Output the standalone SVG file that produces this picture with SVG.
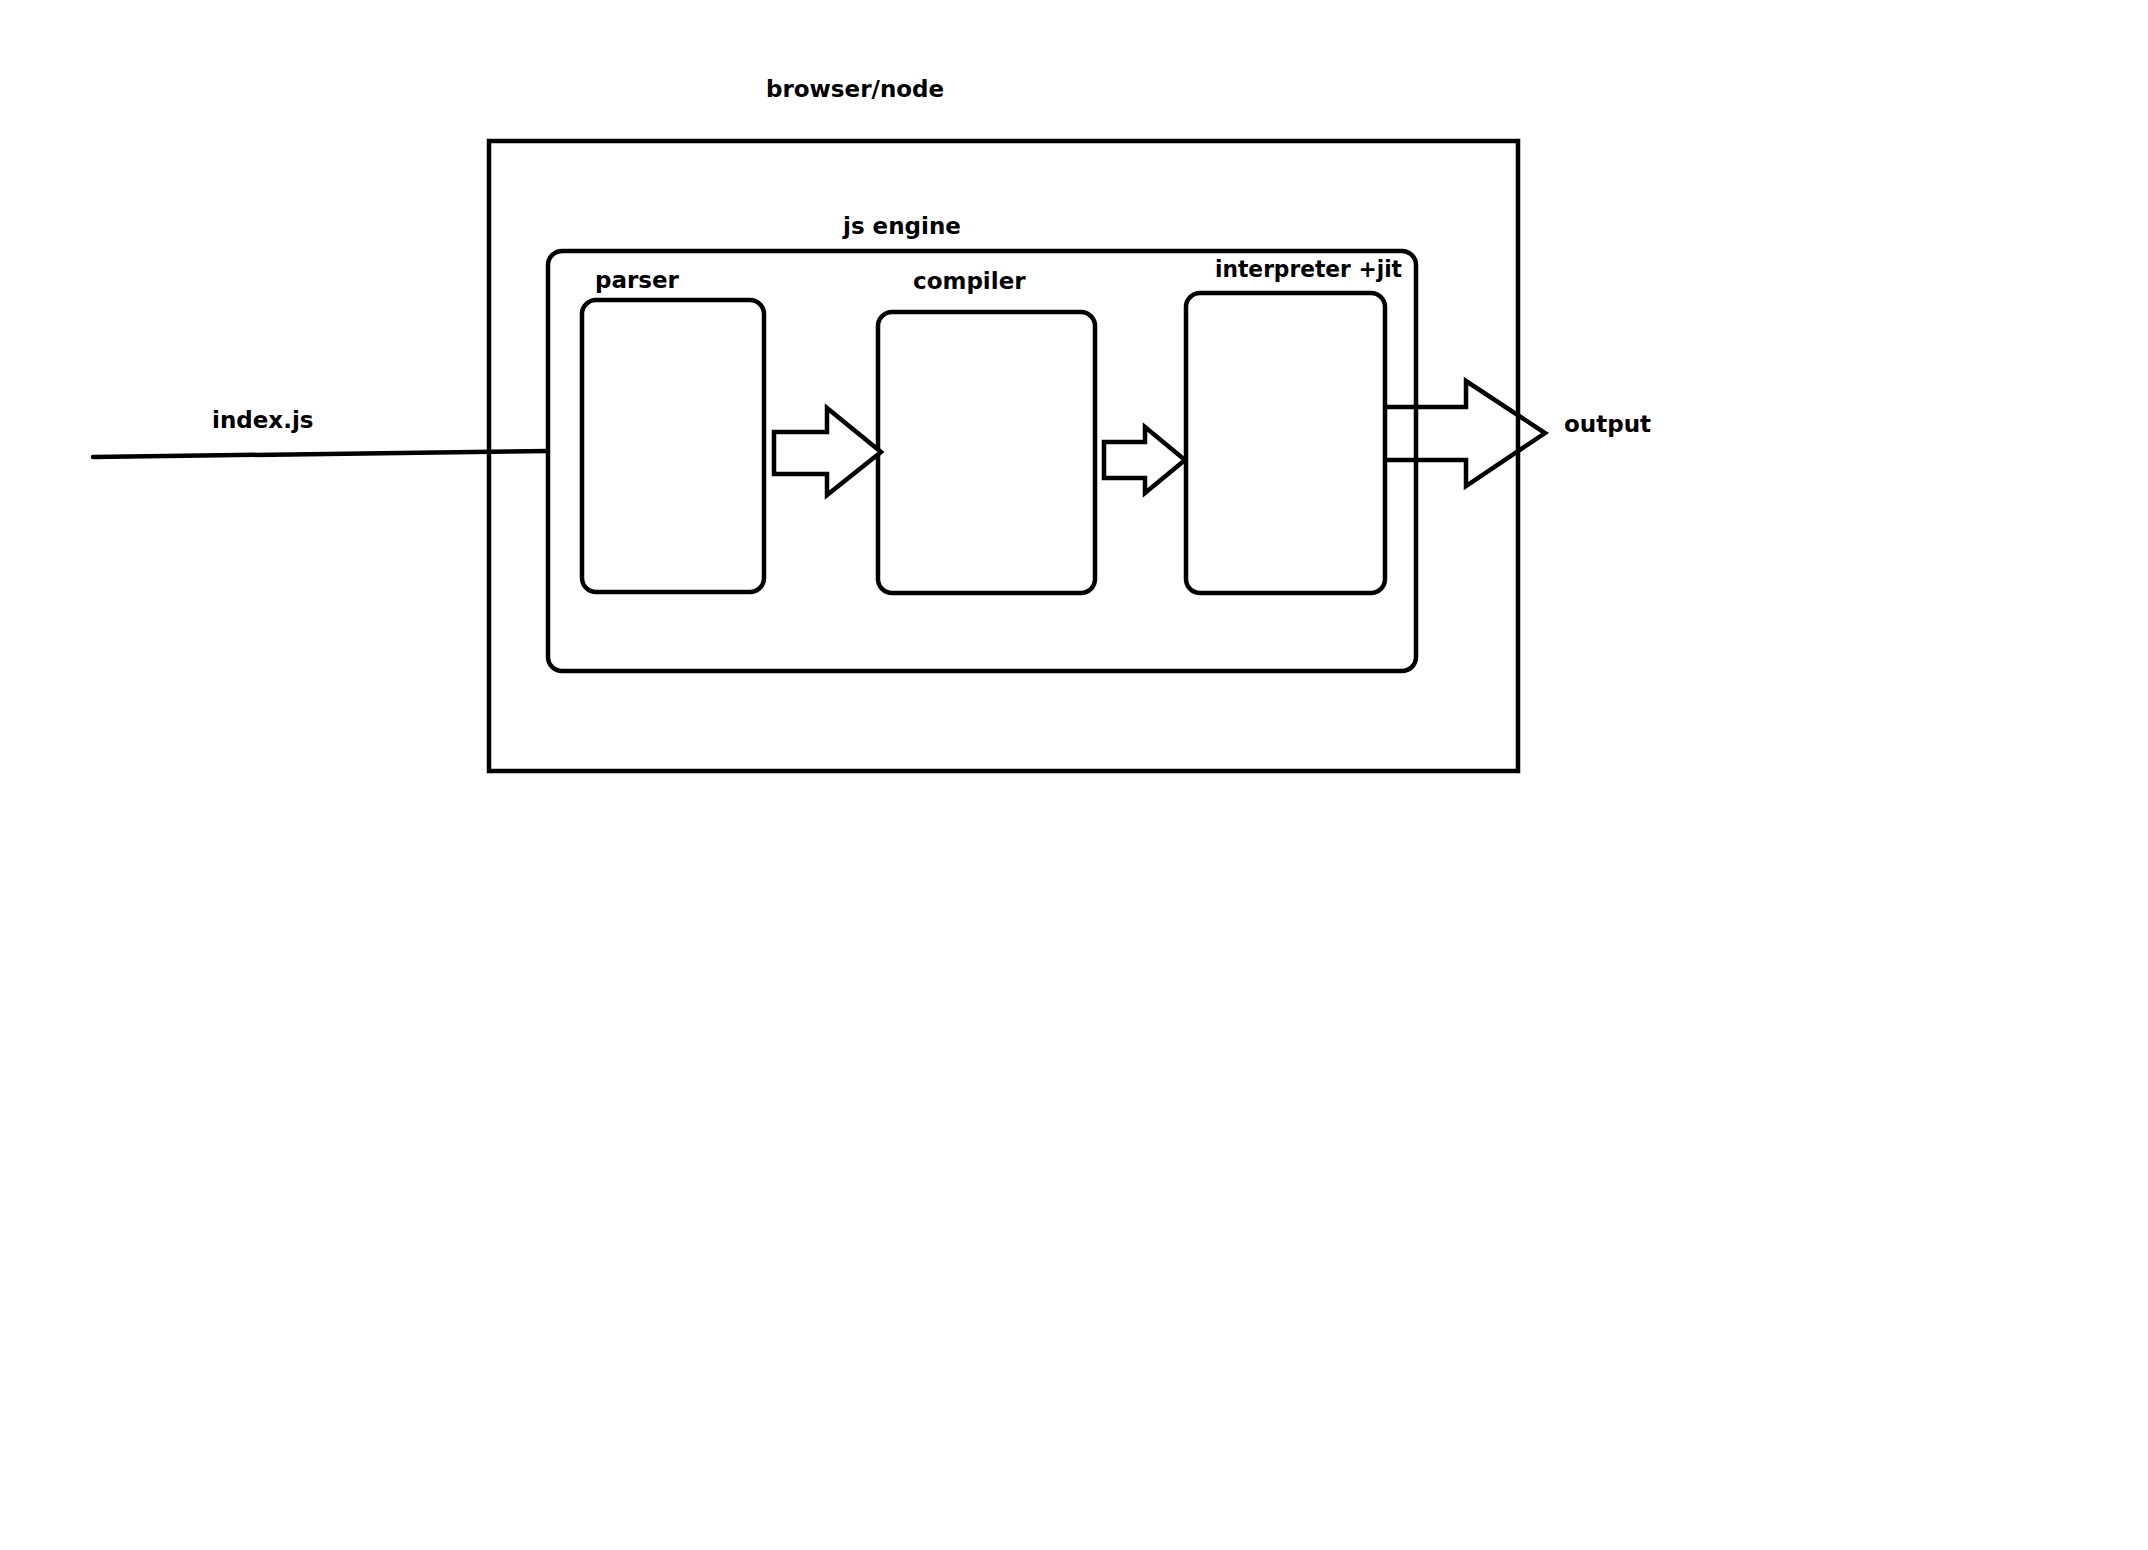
<svg xmlns="http://www.w3.org/2000/svg" width="2148" height="1550" viewBox="0 0 2148 1550">
<style>
.box{fill:none;stroke:#000;stroke-width:4.5}
.arr{fill:#fff;stroke:#000;stroke-width:4.5;stroke-linejoin:miter}
.lbl{font-family:"DejaVu Sans",sans-serif;font-weight:bold;font-size:23px;fill:#000}
.line{fill:none;stroke:#000;stroke-width:4.5;stroke-linecap:round}
</style>
<rect width="2148" height="1550" fill="#fff"/>
<g id="browser-node">
<rect class="box" x="489" y="141" width="1029" height="630"/>
<text class="lbl" x="766" y="97">browser/node</text>
</g>
<g id="js-engine">
<rect class="box" x="548" y="251" width="868" height="420" rx="14"/>
<text class="lbl" x="843" y="234">js engine</text>
</g>
<g id="parser">
<rect class="box" x="582" y="300" width="182" height="292" rx="14"/>
<text class="lbl" x="595" y="288">parser</text>
</g>
<g id="compiler">
<rect class="box" x="878" y="312" width="217" height="281" rx="14"/>
<text class="lbl" x="913" y="289">compiler</text>
</g>
<g id="interpreter">
<rect class="box" x="1186" y="293" width="199" height="300" rx="14"/>
<text class="lbl" x="1215" y="277" textLength="187" lengthAdjust="spacingAndGlyphs">interpreter +jit</text>
</g>
<g id="index-js">
<text class="lbl" x="212" y="428">index.js</text>
</g>
<g id="output">
<text class="lbl" x="1564" y="432">output</text>
</g>
<g id="connectors">
<path class="line" d="M93,457 L548,451"/>
<path class="arr" d="M774,432 L827,432 L827,408 L881,452 L827,495 L827,474 L774,474 Z"/>
<path class="arr" d="M1104,442 L1145,442 L1145,427 L1185,460 L1145,493 L1145,478 L1104,478 Z"/>
<path class="arr" d="M1385,407 L1466,407 L1466,381 L1545,433 L1466,486 L1466,460 L1385,460" style="fill:none"/>
</g>
</svg>
